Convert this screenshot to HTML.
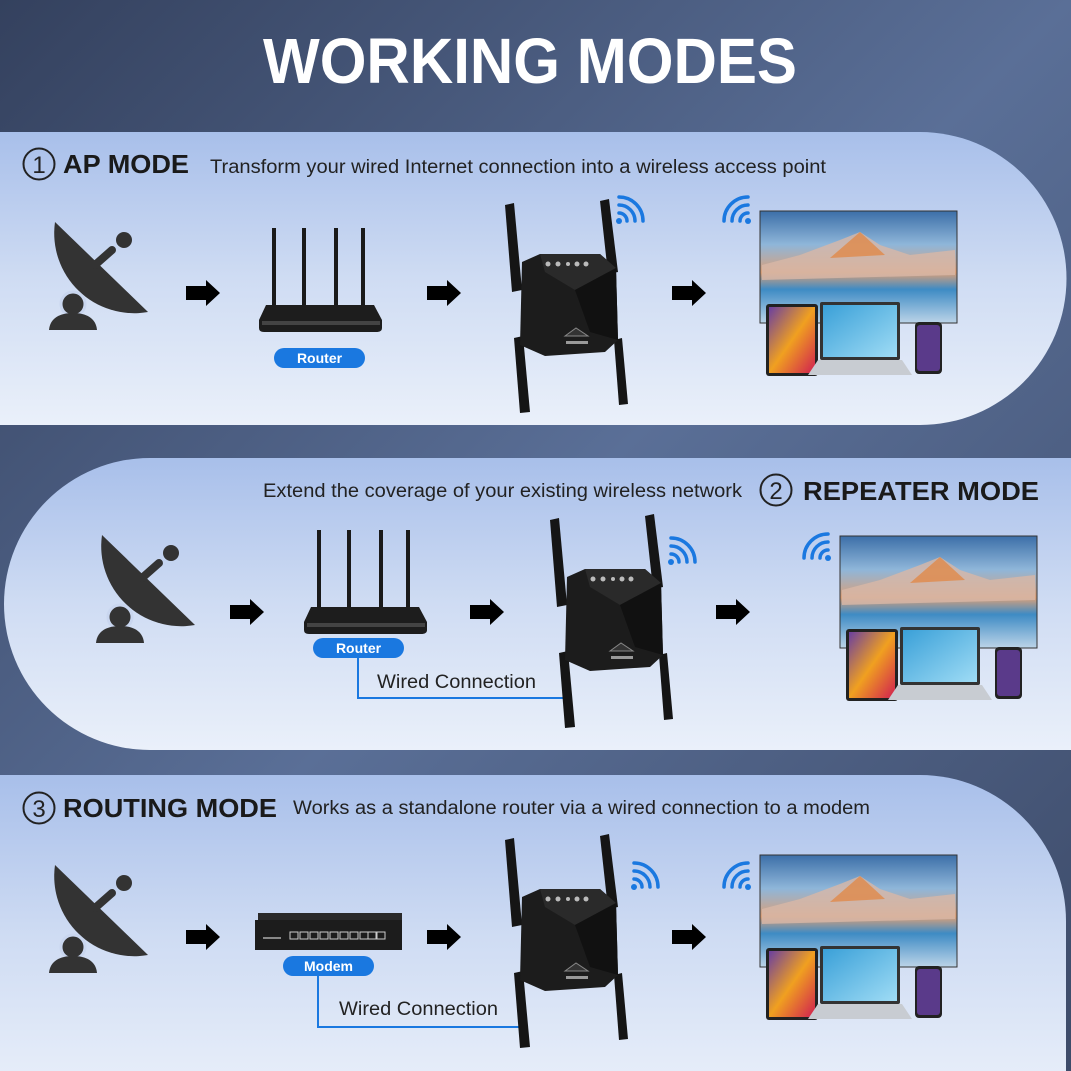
<!DOCTYPE html>
<html><head><meta charset="utf-8"><style>
html,body{margin:0;padding:0;width:1071px;height:1071px;overflow:hidden;background:#3e4d6c}
svg{display:block}
text{font-family:"Liberation Sans",Arial,sans-serif}
</style></head><body>
<svg width="1071" height="1071" viewBox="0 0 1071 1071" xmlns="http://www.w3.org/2000/svg">
<defs>
<linearGradient id="bg" x1="0" y1="0" x2="1" y2="1">
<stop offset="0" stop-color="#34415e"/><stop offset="0.5" stop-color="#5a6f97"/><stop offset="1" stop-color="#3d4b69"/></linearGradient>
<linearGradient id="pn" x1="0" y1="0" x2="0" y2="1">
<stop offset="0" stop-color="#a8bfea"/><stop offset="0.5" stop-color="#cfdcf3"/><stop offset="1" stop-color="#eaf0fa"/></linearGradient>
<linearGradient id="tv" x1="0" y1="0" x2="0" y2="1">
<stop offset="0" stop-color="#3c6fa8"/><stop offset="0.3" stop-color="#8fb6d9"/><stop offset="0.55" stop-color="#d9a07a"/><stop offset="0.7" stop-color="#3e8bc4"/><stop offset="1" stop-color="#bcd4e8"/></linearGradient>
<linearGradient id="tab" x1="0" y1="0" x2="1" y2="1">
<stop offset="0" stop-color="#6a3fa0"/><stop offset="0.5" stop-color="#f0a020"/><stop offset="1" stop-color="#d02050"/></linearGradient>
<linearGradient id="lap" x1="0" y1="0" x2="1" y2="1">
<stop offset="0" stop-color="#3aa0d8"/><stop offset="1" stop-color="#9fdcf5"/></linearGradient>
<g id="dish">
<path d="M55,222 A80,80 0 0 0 148,312 Z" fill="#333"/>
<line x1="95" y1="265" x2="112" y2="250" stroke="#333" stroke-width="8" stroke-linecap="round"/>
<circle cx="124" cy="240" r="8" fill="#333"/>
<circle cx="73" cy="304" r="12" fill="#333" stroke="#c9d6ef" stroke-width="3"/>
<path d="M49,330 C50,318 60,313 73,313 C86,313 96,318 97,330Z" fill="#333"/>
</g>
<path id="arr" d="M0,-7 L20,-7 L20,-13 L34,0 L20,13 L20,7 L0,7Z" fill="#000"/>
<g id="router">
<rect x="272" y="228" width="4" height="80" fill="#1a1a1a"/>
<rect x="302" y="228" width="4" height="80" fill="#1a1a1a"/>
<rect x="334" y="228" width="4" height="80" fill="#1a1a1a"/>
<rect x="361" y="228" width="4" height="80" fill="#1a1a1a"/>
<path d="M266,305 L374,305 L382,320 L382,328 Q382,332 376,332 L264,332 Q259,332 259,328 L259,320Z" fill="#1d1d1d"/>
<rect x="262" y="321" width="118" height="4" fill="#444"/>
</g>
<g id="ext">
<polygon points="505,205 514,203 522,290 512,292" fill="#151515"/>
<polygon points="600,201 609,199 618,272 608,274" fill="#151515"/>
<polygon points="514,338 523,336 530,412 520,413" fill="#151515"/>
<polygon points="614,340 622,338 628,404 619,405" fill="#151515"/>
<polygon points="522,262 540,254 600,254 616,268 618,340 605,352 545,356 520,345" fill="#1c1c1c"/>
<polygon points="540,254 600,254 616,268 575,290 545,272" fill="#2a2a2a"/>
<polygon points="575,290 616,268 618,340 590,332" fill="#111"/>
<circle cx="548" cy="264" r="2.5" fill="#bbb"/><circle cx="558" cy="264" r="2.5" fill="#bbb"/><circle cx="568" cy="264" r="2" fill="#bbb"/><circle cx="577" cy="264" r="2.5" fill="#bbb"/><circle cx="586" cy="264" r="2.5" fill="#bbb"/>
<polygon points="565,336 576,328 588,336" fill="#333" stroke="#888" stroke-width="1"/>
<rect x="566" y="341" width="22" height="3" fill="#999"/>
</g>
<g id="wifiR" fill="none" stroke="#1a78e0" stroke-width="3.5" stroke-linecap="round">
<circle cx="0" cy="0" r="3" fill="#1a78e0" stroke="none"/>
<path d="M8,0 A8,8 0 0 0 0,-8"/><path d="M16,0 A16,16 0 0 0 0,-16"/><path d="M24,0 A24,24 0 0 0 0,-24"/>
</g>
<g id="devices">
<rect x="760" y="211" width="197" height="112" fill="url(#tv)" stroke="#333" stroke-width="1"/>
<polygon points="762,265 800,255 840,240 860,232 880,245 910,255 955,250 955,275 762,280" fill="#d8b8a8" opacity="0.8"/>
<polygon points="830,258 860,232 885,255" fill="#e08a4a" opacity="0.8"/>
<rect x="766" y="304" width="52" height="72" rx="3" fill="#222"/>
<rect x="769" y="307" width="46" height="66" fill="url(#tab)"/>
<rect x="820" y="302" width="80" height="58" rx="2" fill="#333"/>
<rect x="823" y="305" width="74" height="52" fill="url(#lap)"/>
<polygon points="818,360 902,360 912,375 808,375" fill="#c8ccd2"/>
<rect x="915" y="322" width="27" height="52" rx="4" fill="#222"/>
<rect x="917" y="325" width="23" height="46" rx="3" fill="#5a3a8a"/>
</g>
</defs>
<rect width="1071" height="1071" fill="url(#bg)"/>
<text x="530" y="83" text-anchor="middle" font-size="64" font-weight="bold" fill="#fff" textLength="534" lengthAdjust="spacingAndGlyphs">WORKING MODES</text>

<path d="M-20,132 L920,132 A146,146 0 0 1 920,425 L-20,425Z" fill="url(#pn)"/>
<path d="M150,458 L1100,458 L1100,750 L150,750 A146,146 0 0 1 150,458Z" fill="url(#pn)"/>
<path d="M-20,775 L920,775 A146,146 0 0 1 1066,921 L1066,1100 L-20,1100Z" fill="url(#pn)"/>

<circle cx="39" cy="164" r="15.5" fill="none" stroke="#222" stroke-width="2"/>
<text x="39" y="173" text-anchor="middle" font-size="24" fill="#222">1</text>
<text x="63" y="173" font-size="26" font-weight="bold" fill="#1a1a1a" textLength="126" lengthAdjust="spacingAndGlyphs">AP MODE</text>
<text x="210" y="173" font-size="19" fill="#222" textLength="616" lengthAdjust="spacingAndGlyphs">Transform your wired Internet connection into a wireless access point</text>
<use href="#dish"/>
<use href="#arr" x="186" y="293"/>
<use href="#router"/>
<rect x="274" y="348" width="91" height="20" rx="10" fill="#1a78e0"/>
<text x="319.5" y="363" text-anchor="middle" font-size="14" font-weight="bold" fill="#fff">Router</text>
<use href="#arr" x="427" y="293"/>
<use href="#ext"/>
<use href="#wifiR" x="619" y="221"/>
<use href="#arr" x="672" y="293"/>
<use href="#wifiR" transform="translate(748,221) scale(-1,1)"/>
<use href="#devices"/>

<text x="742" y="497" text-anchor="end" font-size="19" fill="#222" textLength="479" lengthAdjust="spacingAndGlyphs">Extend the coverage of your existing wireless network</text>
<circle cx="776" cy="490" r="15.5" fill="none" stroke="#222" stroke-width="2"/>
<text x="776" y="499" text-anchor="middle" font-size="24" fill="#222">2</text>
<text x="803" y="500" font-size="26" font-weight="bold" fill="#1a1a1a" textLength="236" lengthAdjust="spacingAndGlyphs">REPEATER MODE</text>
<use href="#dish" x="47" y="313"/>
<use href="#arr" x="230" y="612"/>
<use href="#router" x="45" y="302"/>
<rect x="313" y="638" width="91" height="20" rx="10" fill="#1a78e0"/>
<text x="358.5" y="653" text-anchor="middle" font-size="14" font-weight="bold" fill="#fff">Router</text>
<polyline points="358,658 358,698 567,698" fill="none" stroke="#1a78e0" stroke-width="2"/>
<text x="377" y="688" font-size="19" fill="#222" textLength="159" lengthAdjust="spacingAndGlyphs">Wired Connection</text>
<use href="#arr" x="470" y="612"/>
<use href="#ext" x="45" y="315"/>
<use href="#wifiR" x="671" y="562"/>
<use href="#arr" x="716" y="612"/>
<use href="#wifiR" transform="translate(828,558) scale(-1,1)"/>
<use href="#devices" x="80" y="325"/>

<circle cx="39" cy="808" r="15.5" fill="none" stroke="#222" stroke-width="2"/>
<text x="39" y="817" text-anchor="middle" font-size="24" fill="#222">3</text>
<text x="63" y="817" font-size="26" font-weight="bold" fill="#1a1a1a" textLength="214" lengthAdjust="spacingAndGlyphs">ROUTING MODE</text>
<text x="293" y="814" font-size="19" fill="#222" textLength="577" lengthAdjust="spacingAndGlyphs">Works as a standalone router via a wired connection to a modem</text>
<use href="#dish" y="643"/>
<use href="#arr" x="186" y="937"/>
<rect x="258" y="913" width="144" height="8" fill="#2a2a2a"/>
<rect x="255" y="920" width="147" height="30" fill="#1c1c1c"/>
<g fill="none" stroke="#ccc" stroke-width="1">
<rect x="290" y="932" width="8" height="7"/><rect x="300" y="932" width="8" height="7"/><rect x="310" y="932" width="8" height="7"/><rect x="320" y="932" width="8" height="7"/><rect x="330" y="932" width="8" height="7"/><rect x="340" y="932" width="8" height="7"/><rect x="350" y="932" width="8" height="7"/><rect x="360" y="932" width="8" height="7"/><rect x="368" y="932" width="8" height="7"/><rect x="377" y="932" width="8" height="7"/></g>
<rect x="263" y="937" width="18" height="2" fill="#888"/>
<rect x="283" y="956" width="91" height="20" rx="10" fill="#1a78e0"/>
<text x="328.5" y="971" text-anchor="middle" font-size="14" font-weight="bold" fill="#fff">Modem</text>
<polyline points="318,976 318,1027 520,1027" fill="none" stroke="#1a78e0" stroke-width="2"/>
<text x="339" y="1015" font-size="19" fill="#222" textLength="159" lengthAdjust="spacingAndGlyphs">Wired Connection</text>
<use href="#arr" x="427" y="937"/>
<use href="#ext" y="635"/>
<use href="#wifiR" x="634" y="887"/>
<use href="#arr" x="672" y="937"/>
<use href="#wifiR" transform="translate(748,887) scale(-1,1)"/>
<use href="#devices" y="644"/>
</svg>
</body></html>
